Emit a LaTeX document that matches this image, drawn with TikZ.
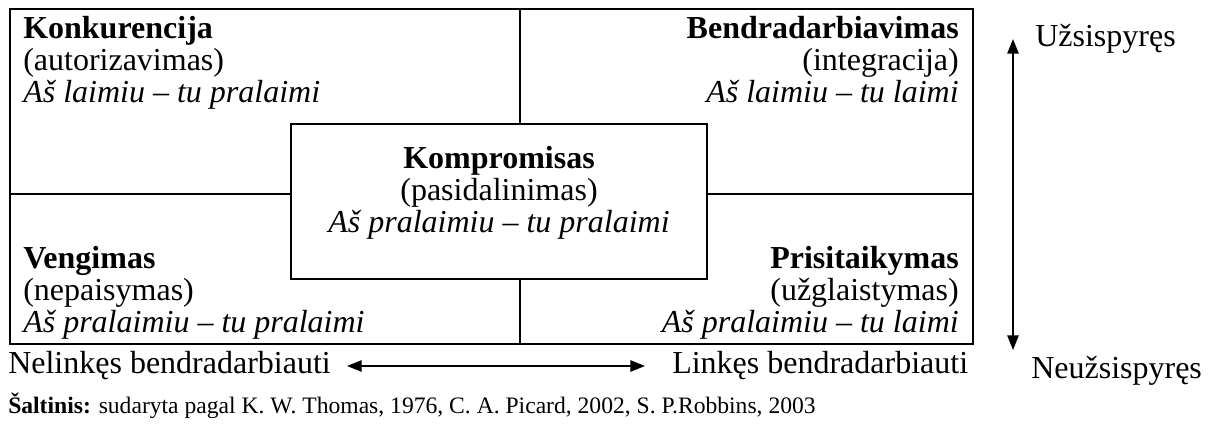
\documentclass[tikz,border=0pt]{standalone}
\usepackage{fontspec}
\setmainfont{Liberation Serif}
\usetikzlibrary{arrows.meta}

\begin{document}
\begin{tikzpicture}[x=0.75pt,y=0.75pt,yscale=-1,xscale=1,
  frame/.style={line width=1.5pt},
  cell/.style={inner sep=0pt,font=\fontsize{24}{24}\selectfont},
  note/.style={inner sep=0pt,font=\fontsize{17.7}{21}\selectfont},
  axis/.style={line width=1.4pt,{Triangle[length=11pt,width=8.5pt]}-{Triangle[length=11pt,width=8.5pt]}}]
\useasboundingbox (0,0) rectangle (1212,429);

%Outer frame with quadrant lines
\draw [frame] (10,9) rectangle (973,344);
\draw [frame] (10,194) -- (973,194);
\draw [frame] (520,9) -- (520,344);
%Centre box
\draw [frame,fill=white] (291,124) rectangle (707,279);

% Text Node (anchored on the last line)
\node (konk) [cell,anchor=base west,align=left] at (23,102) {\textbf{Konkurencija}\\(autorizavimas)\\\textit{Aš laimiu – tu pralaimi}};
% Text Node
\node (bendr) [cell,anchor=base east,align=right] at (959,102) {\textbf{Bendradarbiavimas}\\(integracija)\\\textit{Aš laimiu – tu laimi}};
% Text Node
\node (kompr) [cell,anchor=base,align=center] at (499,232) {\textbf{Kompromisas}\\(pasidalinimas)\\\textit{Aš pralaimiu – tu pralaimi}};
% Text Node
\node (veng) [cell,anchor=base west,align=left] at (23,332) {\textbf{Vengimas}\\(nepaisymas)\\\textit{Aš pralaimiu – tu pralaimi}};
% Text Node
\node (prisit) [cell,anchor=base east,align=right] at (959,332) {\textbf{Prisitaikymas}\\(užglaistymas)\\\textit{Aš pralaimiu – tu laimi}};

%Axes
\coordinate (up) at (1013,39);
\coordinate (down) at (1013,350);
\coordinate (left) at (347,366);
\coordinate (right) at (645,366);
\draw [axis] (up) -- (down);
\draw [axis] (left) -- (right);

% Text Node
\node (uzs) [cell,anchor=base west] at (1035,46) {Užsispyręs};
% Text Node
\node (neuzs) [cell,anchor=base west] at (1031,378) {Neužsispyręs};
% Text Node
\node (nelink) [cell,anchor=base west] at (8,373) {Nelinkęs bendradarbiauti};
% Text Node
\node (link) [cell,anchor=base west] at (672,373) {Linkęs bendradarbiauti};
% Text Node
\node (salt) [note,anchor=base west] at (8,413) {\textbf{Šaltinis:} sudaryta pagal K. W. Thomas, 1976, C. A. Picard, 2002, S. P.Robbins, 2003};

\end{tikzpicture}
\end{document}
